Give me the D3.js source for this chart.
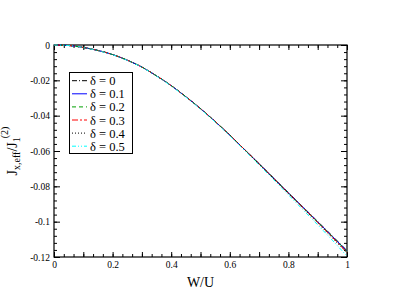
<!DOCTYPE html>
<html>
<head>
<meta charset="utf-8">
<script src="https://cdn.jsdelivr.net/npm/d3@7"></script>
<style>
  body { margin: 0; background: #fff; }
  svg { display: block; }
  text { font-family: "Liberation Serif", "DejaVu Serif", serif; }
</style>
</head>
<body>
<svg id="svg"></svg>
<script>
//data

let wValues = [0, 0.05, 0.1, 0.15, 0.2, 0.25, 0.3, 0.35, 0.4, 0.45, 0.5,
               0.55, 0.6, 0.65, 0.7, 0.75, 0.8, 0.85, 0.9, 0.95, 1];

let jDelta0  = [0, -0.0003, -0.0014, -0.0031, -0.0054, -0.0086, -0.0125, -0.0175, -0.0230, -0.0293, -0.0360,
                -0.0433, -0.0510, -0.0591, -0.0672, -0.0754, -0.0836, -0.0917, -0.0999, -0.1081, -0.1164];
let jDelta01 = [0, -0.0003, -0.0014, -0.0031, -0.0054, -0.0086, -0.0125, -0.0175, -0.0230, -0.0293, -0.0360,
                -0.0433, -0.0510, -0.0591, -0.0672, -0.0755, -0.0837, -0.0918, -0.1000, -0.1083, -0.1166];
let jDelta02 = [0, -0.0003, -0.0014, -0.0031, -0.0054, -0.0086, -0.0125, -0.0175, -0.0230, -0.0293, -0.0360,
                -0.0433, -0.0510, -0.0591, -0.0673, -0.0755, -0.0838, -0.0920, -0.1002, -0.1085, -0.1169];
let jDelta03 = [0, -0.0003, -0.0014, -0.0031, -0.0054, -0.0086, -0.0125, -0.0175, -0.0230, -0.0293, -0.0360,
                -0.0433, -0.0510, -0.0591, -0.0673, -0.0756, -0.0839, -0.0921, -0.1004, -0.1088, -0.1173];
let jDelta04 = [0, -0.0003, -0.0014, -0.0031, -0.0054, -0.0086, -0.0125, -0.0175, -0.0230, -0.0293, -0.0361,
                -0.0434, -0.0511, -0.0592, -0.0674, -0.0757, -0.0841, -0.0924, -0.1007, -0.1092, -0.1178];
let jDelta05 = [0, -0.0003, -0.0014, -0.0032, -0.0055, -0.0087, -0.0126, -0.0176, -0.0232, -0.0295, -0.0363,
                -0.0436, -0.0514, -0.0596, -0.0679, -0.0763, -0.0848, -0.0933, -0.1018, -0.1105, -0.1195];

let deltaLabels = ["0", "0.1", "0.2", "0.3", "0.4", "0.5"];
let seriesColors = ["#000000", "#0000ff", "#00a000", "#ff0000", "#000000", "#00ffff"];
let seriesDashes = ["5,2,1,2", null, "4,3", "6,2,2,2", "1,2", "4,2,1,2,1,2"];

let xMajorTicks = [0, 0.1, 0.2, 0.3, 0.4, 0.5, 0.6, 0.7, 0.8, 0.9, 1];
let xTickLabels = ["0", "", "0.2", "", "0.4", "", "0.6", "", "0.8", "", "1"];
let yMajorTicks = [-0.12, -0.1, -0.08, -0.06, -0.04, -0.02, 0];
let yTickLabels = ["-0.12", "-0.1", "-0.08", "-0.06", "-0.04", "-0.02", "0"];

//variables

let svg = d3.select("#svg");
let width = 415;
let height = 294;
let padLeft = 54, padRight = 347, padTop = 45, padBottom = 257;

let xScale;
let yScale;

//functions

let makeBackground = () => {
  svg.attr("width", width).attr("height", height);
}

let scaleFunction = () => {
  xScale = d3.scaleLinear().domain([0, 1]).range([padLeft, padRight]);
  yScale = d3.scaleLinear().domain([-0.12, 0]).range([padBottom, padTop]);
}

let styleAxis = (g) => {
  g.select(".domain").remove();
  g.selectAll("line").attr("stroke", "#000").attr("stroke-width", 1);
  g.selectAll("text").attr("fill", "#000").style("font-size", "9.5px")
    .style("font-family", "'Liberation Serif', serif");
}

let makeAxes = () => {
  let xMinor = d3.range(0, 31).map(i => i / 30);
  let yMinor = d3.range(0, 31).map(i => -i * 0.004);

  // bottom
  svg.append("g").attr("transform", "translate(0," + padBottom + ")")
    .call(d3.axisBottom(xScale).tickValues(xMinor).tickSize(-3).tickFormat(""))
    .call(styleAxis);
  svg.append("g").attr("transform", "translate(0," + padBottom + ")")
    .call(d3.axisBottom(xScale).tickValues(xMajorTicks).tickSize(-5).tickPadding(4)
      .tickFormat((d, i) => xTickLabels[i]))
    .call(styleAxis);
  // top
  svg.append("g").attr("transform", "translate(0," + padTop + ")")
    .call(d3.axisTop(xScale).tickValues(xMinor).tickSize(-3).tickFormat(""))
    .call(styleAxis);
  svg.append("g").attr("transform", "translate(0," + padTop + ")")
    .call(d3.axisTop(xScale).tickValues(xMajorTicks).tickSize(-5).tickFormat(""))
    .call(styleAxis);
  // left
  svg.append("g").attr("transform", "translate(" + padLeft + ",0)")
    .call(d3.axisLeft(yScale).tickValues(yMinor).tickSize(-3).tickFormat(""))
    .call(styleAxis);
  svg.append("g").attr("transform", "translate(" + padLeft + ",0)")
    .call(d3.axisLeft(yScale).tickValues(yMajorTicks).tickSize(-6).tickPadding(4)
      .tickFormat((d, i) => yTickLabels[i]))
    .call(styleAxis);
  // right
  svg.append("g").attr("transform", "translate(" + padRight + ",0)")
    .call(d3.axisRight(yScale).tickValues(yMinor).tickSize(-3).tickFormat(""))
    .call(styleAxis);
  svg.append("g").attr("transform", "translate(" + padRight + ",0)")
    .call(d3.axisRight(yScale).tickValues(yMajorTicks).tickSize(-6).tickFormat(""))
    .call(styleAxis);

  svg.append("rect")
    .attr("x", padLeft).attr("y", padTop)
    .attr("width", padRight - padLeft).attr("height", padBottom - padTop)
    .attr("fill", "none").attr("stroke", "#000").attr("stroke-width", 1.2);

  // axis titles
  svg.append("text")
    .attr("x", (padLeft + padRight) / 2).attr("y", 287)
    .attr("text-anchor", "middle")
    .style("font-size", "14px")
    .text("W/U");

  let yl = svg.append("text")
    .attr("transform", "translate(17," + ((padTop + padBottom) / 2) + ") rotate(-90)")
    .attr("text-anchor", "middle")
    .style("font-size", "14px");
  yl.append("tspan").text("J");
  yl.append("tspan").attr("dy", 3).style("font-size", "10px").text("x,eff");
  yl.append("tspan").attr("dy", -3).text("/J");
  yl.append("tspan").attr("dy", 3).style("font-size", "10px").text("1");
  yl.append("tspan").attr("dy", -12).attr("dx", -1).style("font-size", "10px").text("(2)");
}

let makeGraph = () => {
  let allSeries = [jDelta0, jDelta01, jDelta02, jDelta03, jDelta04, jDelta05];

  let line = d3.line()
    .x((d, i) => xScale(wValues[i]))
    .y((d) => yScale(d))
    .curve(d3.curveMonotoneX);

  let plot = svg.append("g");
  plot.selectAll("path")
    .data(allSeries)
    .enter()
    .append("path")
    .attr("d", (d) => line(d))
    .attr("fill", "none")
    .attr("stroke", (d, i) => seriesColors[i])
    .attr("stroke-width", 1)
    .attr("stroke-dasharray", (d, i) => seriesDashes[i]);

  // legend
  let lx = 69, ly = 72;
  svg.append("rect")
    .attr("x", lx + 0.5).attr("y", ly + 0.5)
    .attr("width", 63).attr("height", 81)
    .attr("fill", "#fff").attr("stroke", "#000").attr("stroke-width", 1);

  let items = svg.selectAll(".legend-item")
    .data(deltaLabels)
    .enter()
    .append("g")
    .attr("class", "legend-item")
    .attr("transform", (d, i) => "translate(0," + (80.7 + i * 13.1) + ")");

  items.append("line")
    .attr("x1", 72).attr("x2", 87)
    .attr("y1", 0).attr("y2", 0)
    .attr("stroke", (d, i) => seriesColors[i])
    .attr("stroke-width", 1)
    .attr("stroke-dasharray", (d, i) => seriesDashes[i]);

  items.append("text")
    .attr("x", 90).attr("y", 4.5)
    .style("font-size", "12.5px")
    .text((d) => "δ = " + d);
}

makeBackground();
scaleFunction();
makeAxes();
makeGraph();
</script>
</body>
</html>
